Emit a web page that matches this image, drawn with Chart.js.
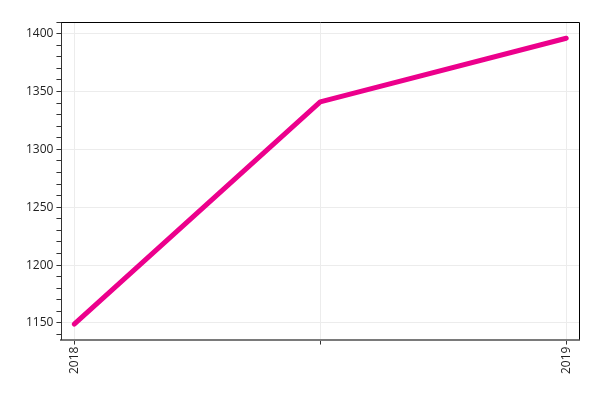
<!DOCTYPE html>
<html>
<head>
<meta charset="utf-8">
<script src="https://cdn.jsdelivr.net/npm/chart.js@4/dist/chart.umd.min.js"></script>
<style>
    html, body { margin: 0; padding: 0; background: #fff; }
    #wrap { width: 600px; height: 400px; }
</style>
</head>
<body>
<div id="wrap"><canvas id="chart"></canvas></div>
<script>
const years = [2018, 2018.5, 2019];
const values = [1149, 1341, 1396];
const xTickLabels = ['2018', '', '2019'];
const yMajorStep = 50;

// frame on the top and right side of the plot
const frame = {
    id: 'frame',
    afterDraw(chart) {
        const { ctx, chartArea: a } = chart;
        ctx.save();
        ctx.strokeStyle = '#000';
        ctx.lineWidth = 1;
        ctx.beginPath();
        ctx.moveTo(a.left, a.top + 0.5);
        ctx.lineTo(a.right + 0.5, a.top + 0.5);
        ctx.lineTo(a.right + 0.5, a.bottom);
        ctx.stroke();
        ctx.restore();
    }
};

const ctx = document.getElementById('chart').getContext('2d');
new Chart(ctx, {
    type: 'line',
    data: {
        datasets: [{
            data: years.map((x, i) => ({ x, y: values[i] })),
            borderColor: '#ec008c',
            borderWidth: 5,
            borderCapStyle: 'round',
            borderJoinStyle: 'round',
            pointRadius: 0,
            tension: 0
        }]
    },
    options: {
        responsive: true,
        maintainAspectRatio: false,
        animation: false,
        layout: { padding: { left: 23, top: 22, right: 21, bottom: 24 } },
        plugins: {
            legend: { display: false },
            tooltip: { enabled: false }
        },
        scales: {
            x: {
                type: 'linear',
                min: 2017.974,
                max: 2019.026,
                afterBuildTicks(scale) {
                    scale.ticks = years.map(v => ({ value: v }));
                },
                ticks: {
                    autoSkip: false,
                    minRotation: 90,
                    maxRotation: 90,
                    color: '#222',
                    font: { family: 'Open Sans', size: 12 },
                    padding: 2,
                    callback(value) {
                        const i = years.indexOf(value);
                        return i >= 0 ? xTickLabels[i] : '';
                    }
                },
                grid: {
                    color: '#ececec',
                    tickColor: '#333',
                    tickLength: 5
                },
                border: { color: '#7a7a7a', width: 2 }
            },
            y: {
                min: 1135.7,
                max: 1410,
                ticks: {
                    stepSize: 10,
                    includeBounds: false,
                    autoSkip: false,
                    color: '#222',
                    font: { family: 'Open Sans', size: 12 },
                    padding: 3,
                    callback(value) {
                        return value % yMajorStep === 0 ? String(value) : '';
                    }
                },
                grid: {
                    color: (c) => c.tick && c.tick.value % yMajorStep === 0 ? '#ececec' : 'rgba(0,0,0,0)',
                    tickColor: '#333',
                    tickLength: 5
                },
                border: { color: '#333', width: 1 }
            }
        }
    },
    plugins: [frame]
});
</script>
</body>
</html>
